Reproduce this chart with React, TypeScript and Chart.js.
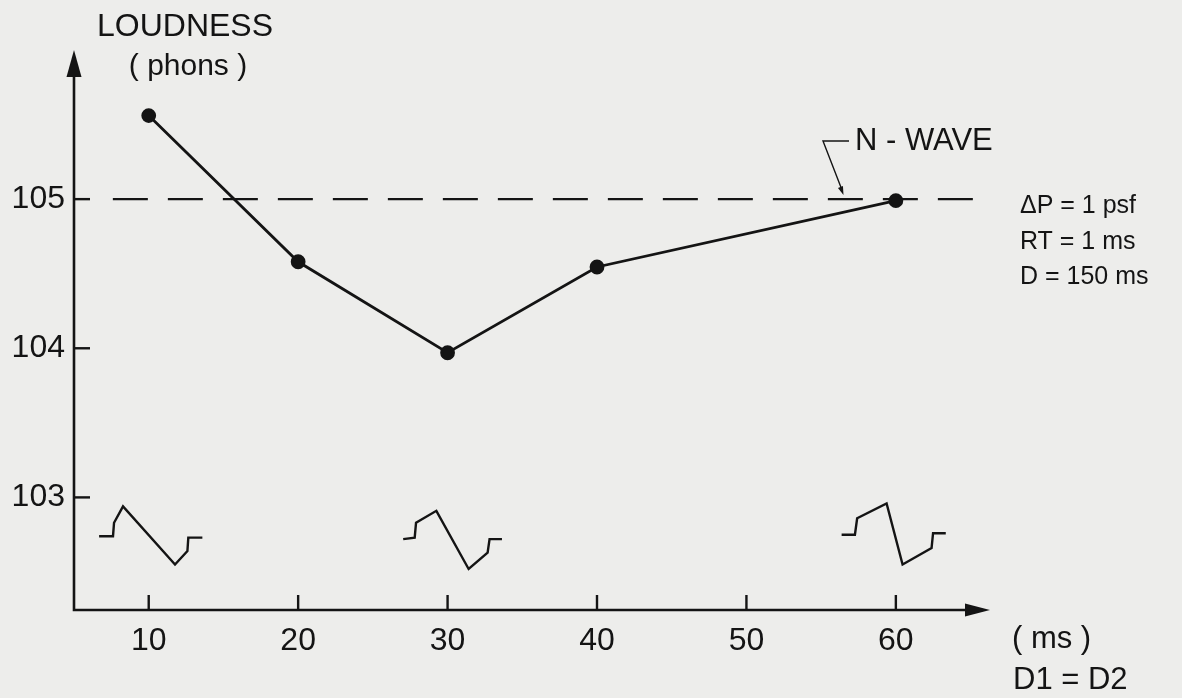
import React, { useEffect, useRef } from "react";
import { Chart, registerables } from "chart.js";

Chart.register(...registerables);

// ---- data ----
const delayMs = [10, 20, 30, 40, 60];
const loudnessPhons = [105.56, 104.58, 103.97, 104.545, 104.99];
const xTickValues = [10, 20, 30, 40, 50, 60];
const yTickValues = [103, 104, 105];
const nWaveLoudness = 105;
const nWaveSpanX = [7.6, 66];

// waveform sketches (data units)
const wave10X = [6.68, 7.61, 7.68, 8.28, 11.76, 12.59, 12.65, 13.59];
const wave10Y = [102.74, 102.74, 102.83, 102.94, 102.55, 102.64, 102.73, 102.73];
const wave30X = [27.03, 27.8, 27.89, 29.25, 31.41, 32.68, 32.81, 33.64];
const wave30Y = [102.72, 102.73, 102.83, 102.91, 102.52, 102.63, 102.72, 102.72];
const wave60X = [56.37, 57.26, 57.41, 59.38, 60.45, 62.39, 62.49, 63.34];
const wave60Y = [102.75, 102.75, 102.86, 102.96, 102.55, 102.66, 102.76, 102.76];

const INK = "#141414";
const BG = "#ededeb";
const FONT = "'Liberation Sans', Arial, sans-serif";

const toPoints = (xs: number[], ys: number[]) => xs.map((x, i) => ({ x, y: ys[i] }));

export default function App() {
  const ref = useRef<HTMLCanvasElement>(null);

  useEffect(() => {
    const canvas = ref.current!;

    const decorPlugin = {
      id: "decor",
      beforeDatasetsDraw(chart: any) {
        const { ctx, chartArea: a, scales } = chart;
        const xs = scales.x;
        const ys = scales.y;
        ctx.save();
        ctx.strokeStyle = INK;
        ctx.fillStyle = INK;
        ctx.lineWidth = 2.6;
        ctx.lineCap = "butt";
        ctx.beginPath();
        ctx.moveTo(a.left, a.top + 20);
        ctx.lineTo(a.left, a.bottom);
        ctx.lineTo(a.right - 20, a.bottom);
        ctx.stroke();
        // arrowheads
        ctx.beginPath();
        ctx.moveTo(a.left, a.top);
        ctx.lineTo(a.left - 7.5, a.top + 27);
        ctx.lineTo(a.left + 7.5, a.top + 27);
        ctx.closePath();
        ctx.fill();
        ctx.beginPath();
        ctx.moveTo(a.right, a.bottom);
        ctx.lineTo(a.right - 25, a.bottom - 6.5);
        ctx.lineTo(a.right - 25, a.bottom + 6.5);
        ctx.closePath();
        ctx.fill();
        // tick marks (inward)
        ctx.lineWidth = 2.4;
        yTickValues.forEach((v) => {
          const py = ys.getPixelForValue(v);
          ctx.beginPath();
          ctx.moveTo(a.left, py);
          ctx.lineTo(a.left + 16, py);
          ctx.stroke();
        });
        xTickValues.forEach((v) => {
          const px = xs.getPixelForValue(v);
          ctx.beginPath();
          ctx.moveTo(px, a.bottom);
          ctx.lineTo(px, a.bottom - 15);
          ctx.stroke();
        });
        ctx.restore();
      },
      afterDraw(chart: any) {
        const { ctx } = chart;
        ctx.save();
        ctx.fillStyle = INK;
        ctx.textBaseline = "middle";
        ctx.textAlign = "center";
        ctx.font = `32px ${FONT}`;
        ctx.fillText("LOUDNESS", 185, 27);
        ctx.font = `30px ${FONT}`;
        ctx.fillText("( phons )", 188, 67);

        ctx.textAlign = "left";
        ctx.font = `31px ${FONT}`;
        ctx.fillText("N - WAVE", 855, 141);

        ctx.font = `25px ${FONT}`;
        ctx.fillText("\u0394P = 1 psf", 1020, 206);
        ctx.fillText("RT = 1 ms", 1020, 242);
        ctx.fillText("D = 150 ms", 1020, 277);

        ctx.font = `31px ${FONT}`;
        ctx.fillText("( ms )", 1012, 639);
        ctx.fillText("D1 = D2", 1013, 680);

        // leader for N-WAVE label
        ctx.strokeStyle = INK;
        ctx.lineWidth = 1.4;
        ctx.beginPath();
        ctx.moveTo(849, 141);
        ctx.lineTo(823, 141);
        ctx.lineTo(842, 190);
        ctx.stroke();
        const tipX = 843.5, tipY = 195;
        const ang = Math.atan2(tipY - 141, tipX - 823);
        ctx.beginPath();
        ctx.moveTo(tipX, tipY);
        ctx.lineTo(tipX - 9 * Math.cos(ang - 0.3), tipY - 9 * Math.sin(ang - 0.3));
        ctx.lineTo(tipX - 9 * Math.cos(ang + 0.3), tipY - 9 * Math.sin(ang + 0.3));
        ctx.closePath();
        ctx.fillStyle = INK;
        ctx.fill();
        ctx.restore();
      },
    };

    const waveStyle = {
      borderColor: INK,
      borderWidth: 2.4,
      pointRadius: 0,
      tension: 0,
      fill: false,
    };

    const chart = new Chart(canvas, {
      type: "line",
      data: {
        datasets: [
          {
            label: "Loudness",
            data: toPoints(delayMs, loudnessPhons),
            borderColor: INK,
            backgroundColor: INK,
            borderWidth: 2.8,
            pointRadius: 6,
            pointBackgroundColor: INK,
            pointBorderColor: INK,
            tension: 0,
          },
          {
            label: "N-wave",
            data: toPoints(nWaveSpanX, nWaveSpanX.map(() => nWaveLoudness)),
            borderColor: INK,
            borderWidth: 2.4,
            borderDash: [35, 20],
            pointRadius: 0,
            tension: 0,
          },
          { label: "w10", data: toPoints(wave10X, wave10Y), ...waveStyle },
          { label: "w30", data: toPoints(wave30X, wave30Y), ...waveStyle },
          { label: "w60", data: toPoints(wave60X, wave60Y), ...waveStyle },
        ],
      },
      options: {
        responsive: false,
        animation: false,
        maintainAspectRatio: false,
        layout: { padding: { top: 50, right: 192, left: 0, bottom: 0 } },
        plugins: {
          legend: { display: false },
          tooltip: { enabled: false },
          title: { display: false },
        },
        scales: {
          x: {
            type: "linear",
            min: 5,
            max: 66.3,
            grid: { display: false, drawTicks: false },
            border: { display: false },
            afterBuildTicks: (s: any) => {
              s.ticks = xTickValues.map((v) => ({ value: v }));
            },
            afterFit: (s: any) => {
              s.height = 88;
            },
            ticks: {
              color: INK,
              font: { family: FONT, size: 32 },
              padding: 12,
              maxRotation: 0,
              autoSkip: false,
              callback: (v: any) => String(v),
            },
          },
          y: {
            type: "linear",
            min: 102.245,
            max: 106,
            grid: { display: false, drawTicks: false },
            border: { display: false },
            afterBuildTicks: (s: any) => {
              s.ticks = yTickValues.map((v) => ({ value: v }));
            },
            afterFit: (s: any) => {
              s.width = 74;
            },
            ticks: {
              color: INK,
              font: { family: FONT, size: 32 },
              padding: 9,
              autoSkip: false,
              callback: (v: any) => String(v),
            },
          },
        },
      },
      plugins: [decorPlugin],
    } as any);

    return () => chart.destroy();
  }, []);

  return (
    <div
      style={{
        position: "absolute",
        left: 0,
        top: 0,
        width: 1182,
        height: 698,
        background: BG,
      }}
    >
      <canvas ref={ref} width={1182} height={698} style={{ width: 1182, height: 698, display: "block" }} />
    </div>
  );
}
